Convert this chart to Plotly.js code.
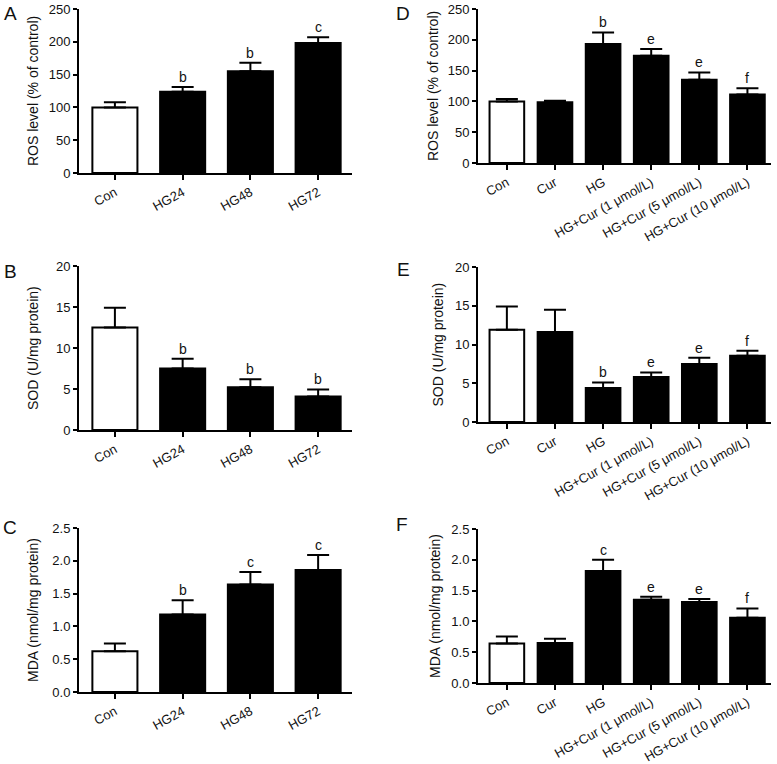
<!DOCTYPE html>
<html>
<head>
<meta charset="utf-8">
<script src="https://cdn.plot.ly/plotly-3.0.1.min.js"></script>
<style>html,body{margin:0;padding:0;background:#fff;}#chart{width:777px;height:764px;}</style>
</head>
<body>
<div id="chart"></div>
<script>
// ---- data ----
const catsLeft = ['Con', 'HG24', 'HG48', 'HG72'];
const catsRight = ['Con', 'Cur', 'HG', 'HG+Cur (1 μmol/L)', 'HG+Cur (5 μmol/L)', 'HG+Cur (10 μmol/L)'];

const rosTime = [100, 124, 155, 198];
const rosTimeErr = [108, 131, 168, 207];
const rosTimeSig = ['', 'b', 'b', 'c'];

const sodTime = [12.5, 7.5, 5.2, 4.1];
const sodTimeErr = [14.9, 8.7, 6.2, 4.95];
const sodTimeSig = ['', 'b', 'b', 'b'];

const mdaTime = [0.62, 1.18, 1.64, 1.86];
const mdaTimeErr = [0.74, 1.40, 1.83, 2.09];
const mdaTimeSig = ['', 'b', 'c', 'c'];

const rosCur = [100, 98.5, 193, 174, 135, 111];
const rosCurErr = [104, 101, 212, 185, 147, 121.5];
const rosCurSig = ['', '', 'b', 'e', 'e', 'f'];

const sodCur = [11.9, 11.6, 4.4, 5.8, 7.5, 8.55];
const sodCurErr = [14.9, 14.5, 5.1, 6.4, 8.3, 9.2];
const sodCurSig = ['', '', 'b', 'e', 'e', 'f'];

const mdaCur = [0.64, 0.65, 1.82, 1.35, 1.315, 1.06];
const mdaCurErr = [0.755, 0.72, 2.0, 1.40, 1.364, 1.21];
const mdaCurSig = ['', '', 'c', 'e', 'e', 'f'];

const yTitles = ['ROS level (% of control)', 'SOD (U/mg protein)', 'MDA (nmol/mg protein)'];
const panelLetters = ['A', 'B', 'C', 'D', 'E', 'F'];

// ---- layout geometry (pixels) ----
const W = 777, H = 764;
const FONT = 'Liberation Sans, Arial, sans-serif';
const panels = [
  {cats: catsLeft, y: rosTime, e: rosTimeErr, s: rosTimeSig, x0: 79, x1: 352, top: 9, bot: 173, range: [0, 250], dtick: 50, fmt: 'd', xr: [-0.53, 3.5], bw: 0.665, title: yTitles[0], tx: 33, letter: panelLetters[0], lx: 10, ly: 13},
  {cats: catsLeft, y: sodTime, e: sodTimeErr, s: sodTimeSig, x0: 79, x1: 352, top: 266, bot: 430, range: [0, 20], dtick: 5, fmt: 'd', xr: [-0.53, 3.5], bw: 0.665, title: yTitles[1], tx: 33, letter: panelLetters[1], lx: 10, ly: 271},
  {cats: catsLeft, y: mdaTime, e: mdaTimeErr, s: mdaTimeSig, x0: 79, x1: 352, top: 528, bot: 692, range: [0, 2.5], dtick: 0.5, fmt: '.1f', xr: [-0.53, 3.5], bw: 0.665, title: yTitles[2], tx: 33, letter: panelLetters[2], lx: 10, ly: 527},
  {cats: catsRight, y: rosCur, e: rosCurErr, s: rosCurSig, x0: 478, x1: 771, top: 9, bot: 163, range: [0, 250], dtick: 50, fmt: 'd', xr: [-0.6, 5.49], bw: 0.72, title: yTitles[0], tx: 433, letter: panelLetters[3], lx: 403, ly: 13},
  {cats: catsRight, y: sodCur, e: sodCurErr, s: sodCurSig, x0: 478, x1: 771, top: 267, bot: 422, range: [0, 20], dtick: 5, fmt: 'd', xr: [-0.6, 5.49], bw: 0.72, title: yTitles[1], tx: 437, letter: panelLetters[4], lx: 403, ly: 269},
  {cats: catsRight, y: mdaCur, e: mdaCurErr, s: mdaCurSig, x0: 478, x1: 771, top: 529, bot: 683, range: [0, 2.5], dtick: 0.5, fmt: '.1f', xr: [-0.6, 5.49], bw: 0.72, title: yTitles[2], tx: 435, letter: panelLetters[5], lx: 402, ly: 524}
];

const data = [];
const layout = {
  width: W, height: H,
  margin: {l: 0, r: 0, t: 0, b: 0},
  paper_bgcolor: '#fff', plot_bgcolor: '#fff',
  showlegend: false,
  font: {family: FONT, color: '#111', size: 13},
  annotations: []
};

panels.forEach((p, i) => {
  const k = i + 1;
  const xa = k === 1 ? 'x' : 'x' + k;
  const ya = k === 1 ? 'y' : 'y' + k;
  data.push({
    type: 'bar', x: p.cats, y: p.y, xaxis: xa, yaxis: ya,
    width: p.bw,
    marker: {color: p.cats.map((c, j) => j === 0 ? '#ffffff' : '#000000'), line: {color: '#000', width: 2}},
    error_y: {type: 'data', symmetric: false, array: p.e.map((v, j) => v - p.y[j]), arrayminus: p.y.map(() => 0), color: '#000', thickness: 2, width: 11},
    hoverinfo: 'none'
  });
  const xd = [p.x0 / W, p.x1 / W];
  const yd = [1 - p.bot / H, 1 - p.top / H];
  layout['xaxis' + (k === 1 ? '' : k)] = {
    domain: xd, anchor: ya, type: 'category', range: p.xr,
    showline: true, linecolor: '#000', linewidth: 2,
    ticks: 'outside', ticklen: 5, tickwidth: 2, tickcolor: '#000',
    tickangle: -29, tickfont: {family: FONT, size: 13, color: '#111'},
    showgrid: false, zeroline: false, fixedrange: true
  };
  layout['yaxis' + (k === 1 ? '' : k)] = {
    domain: yd, anchor: xa, range: p.range, dtick: p.dtick, tick0: 0, tickformat: p.fmt,
    showline: true, linecolor: '#000', linewidth: 2,
    ticks: 'outside', ticklen: 4, tickwidth: 2, tickcolor: '#000',
    tickfont: {family: FONT, size: 13, color: '#111'},
    showgrid: false, zeroline: false, fixedrange: true
  };
  // y-axis title
  layout.annotations.push({
    xref: 'paper', yref: 'paper', x: p.tx / W, y: 1 - ((p.top + p.bot) / 2) / H,
    text: p.title, textangle: -90, showarrow: false,
    xanchor: 'center', yanchor: 'middle', font: {family: FONT, size: 14, color: '#111'}
  });
  // panel letter
  layout.annotations.push({
    xref: 'paper', yref: 'paper', x: p.lx / W, y: 1 - p.ly / H,
    text: p.letter, showarrow: false, xanchor: 'center', yanchor: 'middle',
    font: {family: FONT, size: 19, color: '#111'}
  });
  // significance letters
  p.cats.forEach((c, j) => {
    if (!p.s[j]) return;
    layout.annotations.push({
      xref: xa, yref: ya, x: c, y: p.e[j], text: p.s[j], showarrow: false,
      xanchor: 'center', yanchor: 'bottom', yshift: 0,
      font: {family: FONT, size: 14, color: '#111'}
    });
  });
});

Plotly.newPlot('chart', data, layout, {displayModeBar: false, staticPlot: true});
</script>
</body>
</html>
